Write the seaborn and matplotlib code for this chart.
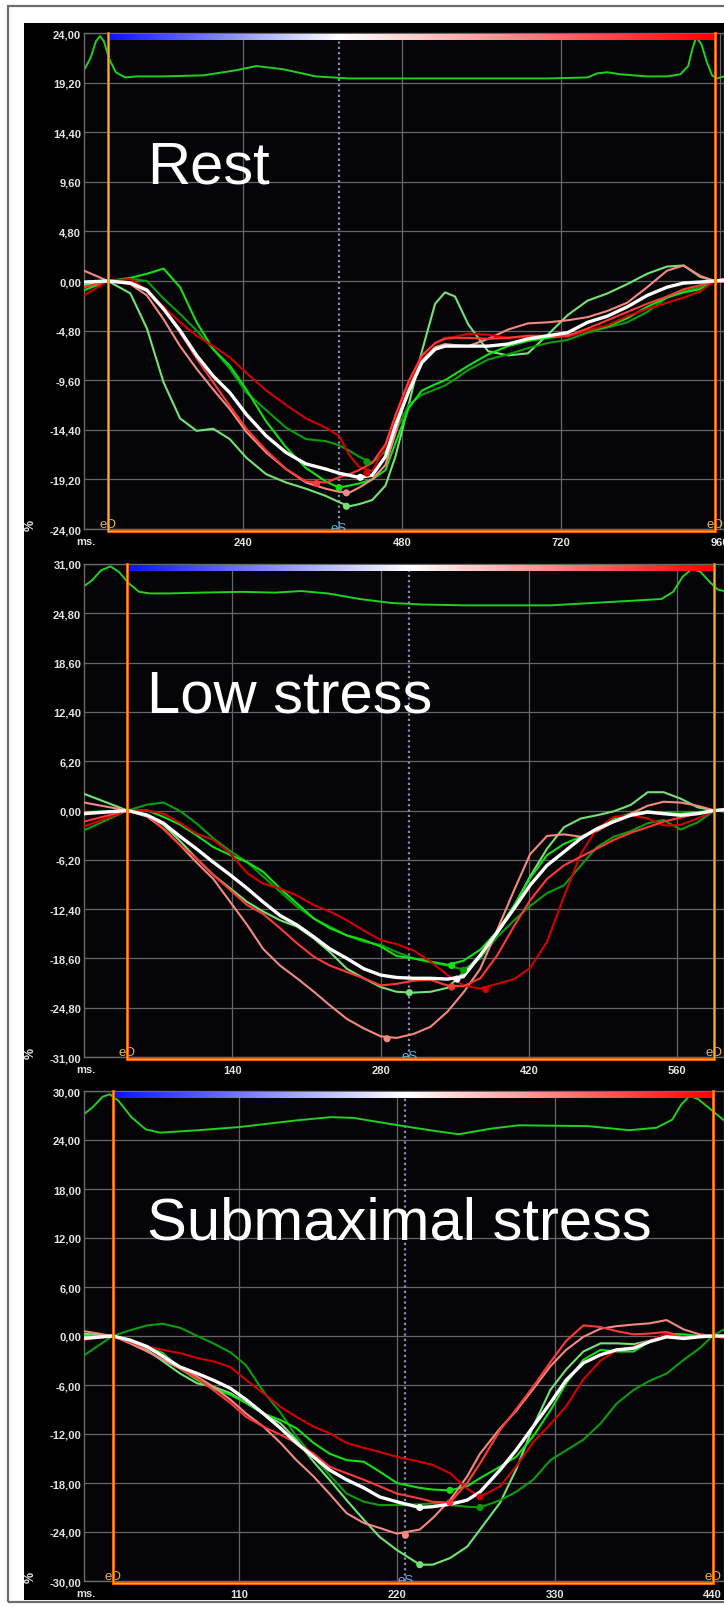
import numpy as np
import matplotlib
matplotlib.use("Agg")
import matplotlib.pyplot as plt
import seaborn as sns
from matplotlib.colors import LinearSegmentedColormap
from matplotlib.patches import Rectangle

# ---------------- Rest ----------------
rest_t = [0, 36, 70, 95, 120, 145, 170, 195, 220, 245, 275, 305, 335, 365, 385, 400, 415, 435, 455, 470,
          490, 510, 530, 545, 560, 580, 610, 640, 670, 700, 730, 760, 790, 820, 850, 880, 905, 930, 952, 966]
rest_avg = [-0.1, 0, -0.2, -0.9, -2.7, -4.8, -7.2, -9.2, -10.8, -12.9, -15.0, -16.6, -17.7, -18.2, -18.6, -18.8, -19.0, -18.8, -17.0, -14.0,
            -10.7, -7.9, -6.6, -6.3, -6.3, -6.3, -6.3, -6.1, -5.6, -5.3, -5.0, -4.0, -3.4, -2.5, -1.4, -0.6, -0.2, -0.1, 0, 0.1]
rest_green = [-0.9, 0, 0.3, 0.7, 1.2, -0.6, -4.0, -6.6, -8.2, -10.5, -13.6, -16.1, -18.1, -19.4, -20.0, -19.8, -19.6, -19.2, -18.3, -15.7,
              -12.3, -10.6, -10.0, -9.6, -9.0, -8.2, -7.1, -6.3, -5.8, -5.5, -5.3, -4.8, -4.4, -3.6, -2.5, -1.6, -1.1, -0.8, 0, 0.1]
rest_darkgreen = [-0.6, 0, 0.2, 0, -1.7, -3.2, -4.8, -6.6, -8.5, -10.8, -12.5, -14.2, -15.3, -15.5, -15.9, -16.4, -17.0, -17.6, -16.5, -14.6,
                  -12.0, -11.0, -10.5, -10.1, -9.5, -8.6, -7.6, -7.1, -6.5, -6.0, -5.7, -5.0, -4.5, -4.0, -3.0, -1.6, -1.0, -0.6, 0, 0.2]
rest_lightgreen = [-0.4, 0, -1.2, -4.6, -9.8, -13.3, -14.5, -14.3, -15.3, -17.1, -18.7, -19.5, -20.1, -20.8, -21.4, -21.8, -21.6, -21.2, -19.8, -17.0,
                   -12.0, -6.8, -2.2, -1.1, -1.5, -4.2, -6.8, -7.2, -7.0, -5.2, -3.3, -1.9, -1.2, -0.3, 0.7, 1.4, 1.5, 0.4, 0, -0.1]
rest_darkred = [-1.4, 0, 0.2, -0.9, -2.5, -4.0, -5.3, -6.3, -7.4, -8.9, -10.6, -12.0, -13.3, -14.2, -15.0, -16.8, -18.0, -18.4, -16.0, -13.5,
                -10.0, -7.3, -6.0, -5.5, -5.4, -5.1, -5.2, -5.5, -5.4, -5.3, -5.4, -4.8, -4.3, -3.4, -2.7, -2.1, -1.6, -1.0, 0, 0.2]
rest_red = [-0.6, 0, -0.1, -0.8, -2.7, -5.0, -7.5, -9.8, -12.1, -14.3, -16.4, -18.2, -19.4, -19.5, -19.0, -18.7, -18.3, -17.6, -15.8, -13.0,
            -9.7, -7.2, -6.0, -5.6, -5.5, -5.5, -5.6, -5.5, -5.3, -5.3, -5.3, -4.6, -3.8, -3.0, -2.2, -1.5, -0.8, -0.4, 0, 0.1]
rest_salmon = [1.0, 0, -0.3, -1.4, -3.7, -6.3, -8.5, -10.5, -12.4, -14.6, -16.6, -18.2, -19.5, -20.1, -20.4, -20.5, -20.0, -19.2, -17.8, -14.8,
               -10.0, -7.7, -6.4, -6.1, -6.2, -6.3, -5.6, -4.7, -4.1, -4.0, -3.8, -3.5, -2.9, -2.1, -0.6, 1.0, 1.5, 0.5, 0, -0.1]
# peak-strain markers (time ms, strain %)
rest_peaks = {"avg": (417, -19.0), "green": (385, -20.0), "darkgreen": (427, -17.5), "lightgreen": (396, -21.8),
              "darkred": (427, -18.6), "red": (351, -19.6), "salmon": (396, -20.5)}
rest_ecg_t = [0, 10, 18, 24, 30, 38, 48, 62, 80, 120, 180, 230, 260, 300, 350, 400, 450, 520, 600, 700,
              760, 775, 790, 810, 850, 880, 900, 912, 918, 924, 932, 940, 948, 955, 966]
rest_ecg_v = [20.4, 21.6, 23.2, 23.7, 23.2, 21.5, 20.2, 19.7, 19.8, 19.8, 19.9, 20.4, 20.8, 20.5, 19.8, 19.6, 19.6, 19.6, 19.6, 19.6,
              19.7, 20.1, 20.2, 20.0, 19.8, 19.8, 20.0, 20.8, 22.4, 23.6, 22.9, 21.2, 19.9, 19.6, 19.8]
rest_events = (36, 385, 952)          # eD, eS, eD
rest_yticks = [-24.0, -19.2, -14.4, -9.6, -4.8, 0.0, 4.8, 9.6, 14.4, 19.2, 24.0]
rest_xticks = [240, 480, 720, 960]

# ---------------- Low stress ----------------
low_t = [0, 41, 60, 75, 91, 106, 122, 138, 154, 169, 185, 201, 217, 232, 248, 264, 280, 295, 311, 327,
         343, 358, 374, 390, 406, 421, 437, 453, 469, 484, 500, 516, 532, 547, 563, 579, 595, 604]
low_avg = [-0.4, 0, -0.6, -1.6, -3.3, -4.8, -6.5, -8.1, -9.8, -11.5, -13.2, -14.4, -15.9, -17.4, -18.6, -19.9, -20.7, -21.0, -21.1, -21.1,
           -21.2, -20.9, -18.2, -15.3, -12.3, -9.4, -6.9, -5.2, -3.5, -2.3, -1.4, -0.6, -0.2, -0.4, -0.6, -0.4, 0, 0.1]
low_green = [-0.2, 0, 0.0, -0.8, -1.8, -3.1, -4.6, -5.6, -6.5, -7.7, -9.8, -11.7, -13.6, -14.8, -15.7, -16.3, -17.1, -18.3, -18.6, -19.0,
             -19.4, -18.9, -17.5, -15.2, -11.9, -8.5, -5.6, -4.2, -3.3, -2.3, -1.0, -0.4, -0.1, -0.3, -0.4, -0.2, 0, 0.1]
low_darkgreen = [-2.5, 0, 0.75, 1.0, -0.1, -1.6, -3.5, -5.1, -6.5, -8.3, -10.2, -12.1, -13.6, -14.6, -15.7, -16.5, -16.9, -17.8, -18.6, -19.1,
                 -19.5, -20.0, -18.6, -15.9, -13.8, -12.0, -10.4, -9.4, -6.9, -4.6, -3.3, -2.6, -1.6, -1.2, -2.4, -1.5, 0, 0.2]
low_lightgreen = [2.1, 0, -0.6, -1.8, -3.9, -6.0, -8.1, -9.8, -11.5, -12.7, -13.8, -14.6, -16.1, -17.8, -19.9, -21.1, -22.2, -22.8, -22.9, -22.8,
                  -22.3, -20.4, -18.2, -15.5, -12.0, -8.3, -4.8, -2.1, -1.0, -0.6, -0.1, 0.7, 2.3, 2.3, 1.5, 0.4, 0, -0.1]
low_darkred = [-2.0, 0, 0.0, -0.4, -1.6, -2.9, -3.7, -5.4, -7.9, -9.2, -9.8, -10.7, -11.9, -12.7, -13.8, -15.1, -16.3, -16.8, -17.6, -19.0,
               -20.7, -22.0, -22.4, -21.8, -21.2, -19.8, -16.5, -10.8, -5.4, -2.3, -0.8, -0.6, -1.0, -1.9, -1.8, -1.0, 0, 0.2]
low_red = [-1.4, 0, -0.6, -2.3, -4.4, -6.0, -8.1, -10.0, -11.9, -13.0, -14.8, -16.7, -18.4, -19.5, -20.3, -21.1, -22.0, -21.8, -21.4, -21.3,
           -22.0, -22.1, -21.1, -18.2, -14.5, -11.3, -8.6, -6.9, -5.8, -4.8, -3.7, -2.8, -2.1, -1.4, -0.9, -0.4, 0, 0.0]
low_salmon = [1.0, 0, -0.8, -2.3, -4.4, -6.5, -8.6, -11.5, -14.4, -17.4, -19.5, -21.1, -22.8, -24.5, -26.2, -27.4, -28.4, -28.6, -28.1, -27.2,
              -25.3, -22.9, -19.9, -15.0, -10.0, -5.5, -3.2, -3.0, -3.3, -2.6, -1.4, -0.4, 0.6, 1.1, 1.0, 0.6, 0, -0.1]
low_peaks = {"avg": (352, -21.2), "green": (347, -19.5), "darkgreen": (358, -20.1), "lightgreen": (307, -22.9),
             "darkred": (379, -22.5), "red": (347, -22.2), "salmon": (286, -28.7)}
low_ecg_t = [0, 8, 16, 25, 33, 42, 52, 62, 80, 110, 150, 180, 205, 230, 260, 290, 320, 360, 400, 440,
             480, 520, 545, 556, 565, 574, 582, 590, 598, 604]
low_ecg_v = [28.2, 29.0, 30.2, 30.7, 30.0, 28.6, 27.5, 27.3, 27.3, 27.4, 27.5, 27.4, 27.6, 27.3, 26.6, 26.1, 25.9, 25.8, 25.8, 25.8,
             26.1, 26.4, 26.6, 27.5, 29.4, 30.4, 30.0, 28.8, 27.8, 27.6]
low_events = (41, 307, 595)
low_yticks = [-31.0, -24.8, -18.6, -12.4, -6.2, 0.0, 6.2, 12.4, 18.6, 24.8, 31.0]
low_xticks = [140, 280, 420, 560]

# ---------------- Submaximal stress ----------------
sub_t = [0, 22, 34, 46, 57, 69, 81, 92, 104, 115, 127, 139, 150, 162, 173, 185, 197, 208, 220, 236,
         245, 257, 269, 278, 292, 303, 315, 327, 338, 350, 362, 373, 385, 396, 408, 420, 431, 440, 448]
sub_avg = [-0.3, 0, -0.5, -1.3, -2.5, -3.8, -4.6, -5.4, -6.4, -7.8, -9.5, -11.3, -13.1, -14.8, -16.4, -17.6, -18.6, -19.7, -20.3, -21.0,
           -20.9, -20.6, -20.1, -19.1, -16.4, -14.0, -11.1, -8.2, -5.4, -3.3, -2.3, -1.7, -1.5, -0.7, -0.1, -0.3, -0.1, 0, 0]
sub_green = [0.0, 0, -0.5, -1.3, -2.1, -4.0, -5.4, -6.4, -7.2, -8.2, -9.5, -10.3, -11.3, -13.1, -14.4, -15.2, -15.4, -16.6, -18.0, -18.6,
             -18.8, -18.9, -18.4, -17.4, -16.0, -14.8, -12.3, -9.1, -5.8, -2.9, -1.7, -1.9, -1.9, -0.7, 0.3, 0.2, 0.0, 0, 0]
sub_darkgreen = [-2.6, 0, 0.7, 1.3, 1.5, 1.0, 0.0, -0.9, -2.0, -3.6, -6.8, -9.4, -12.3, -14.8, -17.0, -19.3, -20.3, -20.7, -20.7, -20.6,
                 -20.5, -20.7, -20.9, -21.0, -20.1, -19.1, -17.6, -15.2, -14.0, -12.7, -10.7, -8.3, -6.6, -5.5, -4.6, -2.9, -1.5, 0, 0.8]
sub_lightgreen = [0.3, 0, -0.5, -1.7, -3.1, -4.6, -5.8, -6.2, -7.0, -8.2, -9.5, -10.7, -12.7, -15.4, -17.6, -20.1, -22.5, -24.6, -26.2, -28.0,
                  -28.0, -27.2, -25.8, -23.7, -20.4, -16.4, -11.1, -6.6, -4.1, -1.9, -0.9, -0.9, -1.0, -0.6, -0.1, -0.1, 0, 0, 0]
sub_darkred = [-0.4, 0, -0.7, -1.3, -1.7, -2.1, -2.7, -3.1, -3.8, -5.4, -7.0, -8.7, -9.9, -11.1, -11.9, -13.1, -13.7, -14.2, -14.8, -15.4,
               -15.8, -16.8, -18.7, -19.7, -18.4, -16.0, -13.0, -10.8, -8.6, -5.3, -3.0, -1.8, -1.3, -0.6, 0.3, -0.3, -0.1, 0, -0.2]
sub_red = [-0.5, 0, -0.7, -1.5, -2.3, -4.0, -5.2, -6.6, -8.2, -9.9, -11.1, -12.1, -13.1, -14.4, -16.0, -16.8, -17.6, -18.4, -19.3, -19.9,
           -20.3, -20.4, -18.0, -15.6, -11.5, -9.0, -6.2, -3.2, -0.6, 1.3, 1.1, 0.6, 0.2, 0.3, 0.5, -0.2, -0.1, 0, -0.2]
sub_salmon = [0.65, 0, -0.9, -1.9, -2.9, -4.0, -5.0, -6.2, -7.8, -9.5, -11.1, -13.1, -15.2, -17.2, -19.3, -21.7, -22.9, -23.5, -24.2, -23.7,
              -22.3, -20.1, -17.2, -14.4, -11.3, -9.2, -6.5, -3.7, -1.7, -0.1, 0.9, 1.2, 1.4, 1.55, 1.95, 0.8, 0.2, 0, 0]
sub_peaks = {"avg": (236, -21.0), "green": (257, -18.9), "darkgreen": (278, -21.0), "lightgreen": (236, -28.0),
             "darkred": (278, -19.7), "red": (257, -20.4), "salmon": (226, -24.4)}
sub_ecg_t = [0, 8, 15, 20, 26, 35, 45, 55, 82, 111, 150, 174, 190, 221, 243, 263, 286, 305, 353, 382,
             401, 412, 418, 424, 430, 437, 448]
sub_ecg_v = [26.9, 28.0, 29.3, 29.6, 28.8, 26.8, 25.3, 24.9, 25.2, 25.6, 26.4, 26.8, 26.7, 25.8, 25.2, 24.7, 25.4, 25.8, 25.7, 25.2,
             25.5, 26.5, 28.3, 29.4, 29.0, 28.0, 26.4]
sub_events = (22, 226, 440)
sub_yticks = [-30.0, -24.0, -18.0, -12.0, -6.0, 0.0, 6.0, 12.0, 18.0, 24.0, 30.0]
sub_xticks = [110, 220, 330, 440]

titles = ["Rest", "Low stress", "Submaximal stress"]

# segment colours
colors = {"lightgreen": "#74e274", "darkgreen": "#0a9c0a", "green": "#14e014",
          "salmon": "#f28a82", "darkred": "#d40000", "red": "#ff3838", "avg": "#ffffff"}
draw_order = ["lightgreen", "darkgreen", "green", "salmon", "darkred", "red", "avg"]

panels = [
    dict(title=titles[0], t=rest_t, series=dict(avg=rest_avg, green=rest_green, darkgreen=rest_darkgreen,
         lightgreen=rest_lightgreen, darkred=rest_darkred, red=rest_red, salmon=rest_salmon),
         peaks=rest_peaks, ecg=(rest_ecg_t, rest_ecg_v), events=rest_events, yticks=rest_yticks,
         xticks=rest_xticks, xlim=(0, 966), box=(34, 530), title_base=183),
    dict(title=titles[1], t=low_t, series=dict(avg=low_avg, green=low_green, darkgreen=low_darkgreen,
         lightgreen=low_lightgreen, darkred=low_darkred, red=low_red, salmon=low_salmon),
         peaks=low_peaks, ecg=(low_ecg_t, low_ecg_v), events=low_events, yticks=low_yticks,
         xticks=low_xticks, xlim=(0, 604), box=(565, 1058), title_base=713),
    dict(title=titles[2], t=sub_t, series=dict(avg=sub_avg, green=sub_green, darkgreen=sub_darkgreen,
         lightgreen=sub_lightgreen, darkred=sub_darkred, red=sub_red, salmon=sub_salmon),
         peaks=sub_peaks, ecg=(sub_ecg_t, sub_ecg_v), events=sub_events, yticks=sub_yticks,
         xticks=sub_xticks, xlim=(2, 448), box=(1092, 1582), title_base=1239),
]

W, H, DPI = 724, 1608, 100
plt.rcParams['font.family'] = ['Liberation Sans', 'DejaVu Sans']

fig = plt.figure(figsize=(W / DPI, H / DPI), dpi=DPI, facecolor="white")


def fx(px):
    return px / W


def fy(py):
    return 1 - py / H


# outer frame and dark backdrop
fig.add_artist(Rectangle((fx(8), fy(1603)), (745 - 8) / W, (1603 - 7) / H, transform=fig.transFigure,
                         fill=False, edgecolor="#6e6e6e", lw=1.6, zorder=-2))
fig.add_artist(Rectangle((fx(24), fy(1601)), (W - 24) / W, (1601 - 24) / H, transform=fig.transFigure,
                         facecolor="#000000", edgecolor="none", zorder=-1))

LEFT, RIGHT = 84, 724
label_color = "#e4e4e4"

for p in panels:
    top, bottom = p["box"]
    ax = fig.add_axes([fx(LEFT), fy(bottom), (RIGHT - LEFT) / W, (bottom - top) / H])
    ax.set_facecolor("#050508")
    ymin, ymax = p["yticks"][0], p["yticks"][-1]
    ppu = (bottom - top) / (ymax - ymin)   # pixels per strain unit
    eD, eS, eD2 = p["events"]

    # ECG trace along the top
    sns.lineplot(x=p["ecg"][0], y=p["ecg"][1], ax=ax, color="#22d022", lw=1.4,
                 estimator=None, errorbar=None, zorder=2.5)

    # end-systole marker line
    ax.axvline(eS, color="#8a8ab8", lw=1.6, ls=(0, (1.0, 1.4)), zorder=2)

    # segmental strain curves and the global average
    for key in draw_order:
        lw = 2.4 if key == "avg" else 1.5
        sns.lineplot(x=p["t"], y=p["series"][key], ax=ax, color=colors[key], lw=lw,
                     estimator=None, errorbar=None, zorder=4.5 if key == "avg" else 4)
    for key in draw_order:
        mt, mv = p["peaks"][key]
        sns.scatterplot(x=[mt], y=[mv], ax=ax, color=colors[key], s=26, edgecolor="none",
                        legend=False, zorder=5)

    # timing colour bar from eD through eS to eD
    f = (eS - eD) / (eD2 - eD)
    cmap = LinearSegmentedColormap.from_list("cycle", [(0, "#0a14ff"), (f, "#ffffff"), (1, "#ff0000")])
    grad = np.linspace(0, 1, 600)[None, :]
    ax.imshow(grad, cmap=cmap, extent=[eD, eD2, ymax - 7 / ppu, ymax - 1.5 / ppu], aspect="auto",
              interpolation="bilinear", zorder=3)

    # orange cycle box
    yb = ymin - 2.2 / ppu
    xs = [eD, eD, eD2, eD2]
    ys = [ymax, yb, yb, ymax]
    ax.plot(xs, ys, color="#ff6c00", lw=2.0, clip_on=False, zorder=6, solid_joinstyle="miter")
    ax.plot(xs, ys, color="#ffc84a", lw=0.5, clip_on=False, zorder=6.1, solid_joinstyle="miter")

    # event labels
    for xe in (eD, eD2):
        ax.text(xe, ymin + 2 / ppu, "eD", color="#e6b45a", fontsize=9.5, ha="center", va="baseline", zorder=5.5)
    ax.text(eS, ymin - 1.5 / ppu, "eS", color="#52b6e0", fontsize=9.5, ha="center", va="baseline",
            zorder=5.5, clip_on=False)

    ax.set_xlim(*p["xlim"])
    ax.set_ylim(ymin, ymax)
    ax.set_yticks(p["yticks"])
    ax.set_yticklabels([f"{v:.2f}".replace(".", ",") for v in p["yticks"]], fontweight="bold")
    ax.set_xticks(p["xticks"])
    ax.set_xticklabels([str(v) for v in p["xticks"]], fontweight="bold")
    ax.tick_params(length=0, colors=label_color, labelsize=8)
    ax.tick_params(axis="y", pad=2)
    ax.tick_params(axis="x", pad=5.5)
    ax.set_xlabel("")
    ax.set_ylabel("")
    ax.grid(True, color="#666666", lw=0.9)
    ax.set_axisbelow(True)
    for s in ax.spines.values():
        s.set_color("#6a6a6a")
        s.set_linewidth(1.0)

    fig.text(fx(76), fy(bottom + 12), "ms.", ha="left", va="center", fontsize=8,
             fontweight="bold", color=label_color)
    fig.text(fx(31), fy(bottom - 5), "%", rotation=90, ha="center", va="center", fontsize=9,
             fontweight="bold", color=label_color)
    fig.text(fx(147), fy(p["title_base"]), p["title"], ha="left", va="baseline", fontsize=43,
             color="white", zorder=10)

fig.savefig("out.png", dpi=DPI, facecolor="white")
